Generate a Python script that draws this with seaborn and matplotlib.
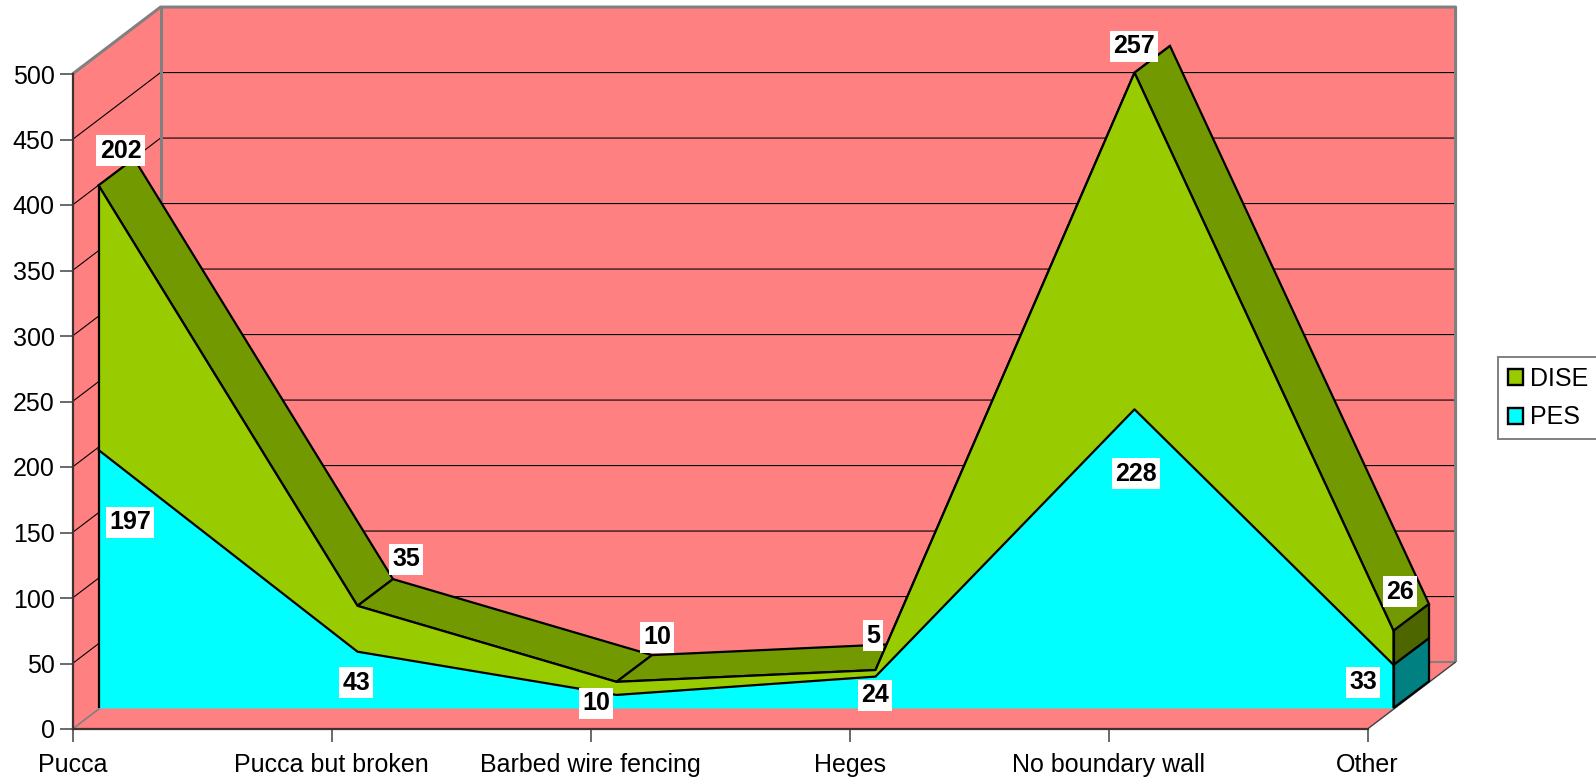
import matplotlib
matplotlib.use("Agg")
import matplotlib.pyplot as plt
from matplotlib.patches import Patch
import numpy as np
import pandas as pd
import seaborn as sns

# School boundary wall types, counted by survey
categories = ["Pucca", "Pucca but broken", "Barbed wire fencing", "Heges", "No boundary wall", "Other"]
pes_values = [197, 43, 10, 24, 228, 33]
dise_values = [202, 35, 10, 5, 257, 26]
y_ticks = [0, 50, 100, 150, 200, 250, 300, 350, 400, 450, 500]

# Oblique projection: shift per unit of depth, in category and value units
WALL_DX, WALL_DY = 0.34, 51.1
FRONT_DX, FRONT_DY = 0.1004, 16.0
BACK_DX, BACK_DY = 0.2375, 36.4

WALL = "#FF8080"
DISE = "#99CC00"
DISE_TOP = "#739900"
DISE_SIDE = "#4D6600"
PES = "#00FFFF"
PES_SIDE = "#008080"
EDGE = "#808080"

sns.set_theme(style="white")
plt.rcParams["font.family"] = ["Liberation Sans", "DejaVu Sans"]

W, H = 1596, 779
fig = plt.figure(figsize=(W / 100, H / 100), dpi=100, facecolor="white")
ax = fig.add_axes([72.5 / W, (H - 729) / H, 1295 / W, 655 / H])
ax.set_xlim(0, 5)
ax.set_ylim(0, 500)
ax.patch.set_alpha(0)

idx = np.arange(len(categories))
pes = np.array(pes_values, dtype=float)
total = pes + np.array(dise_values, dtype=float)


def poly(xs, ys, color, edge="none", lw=1.2, z=1):
    ax.fill(xs, ys, facecolor=color, edgecolor=edge, linewidth=lw, clip_on=False, zorder=z)


def rule(xs, ys, color="black", lw=0.8, z=1.5):
    ax.plot(xs, ys, color=color, linewidth=lw, clip_on=False, zorder=z, solid_capstyle="butt")


# Walls and floor
poly([0, WALL_DX, WALL_DX, 0], [0, WALL_DY, 500 + WALL_DY, 500], WALL)
poly([WALL_DX, 5 + WALL_DX, 5 + WALL_DX, WALL_DX], [WALL_DY, WALL_DY, 500 + WALL_DY, 500 + WALL_DY], WALL)
poly([0, 5, 5 + WALL_DX, WALL_DX], [0, 0, WALL_DY, WALL_DY], WALL)

# Gridlines running along the side wall and across the back wall
for v in y_ticks[1:-1]:
    rule([0, WALL_DX, 5 + WALL_DX], [v, v + WALL_DY, v + WALL_DY])

# Outline of the back box
rule([0, WALL_DX, 5 + WALL_DX, 5 + WALL_DX], [500, 500 + WALL_DY, 500 + WALL_DY, WALL_DY], EDGE, 2.2, 1.6)
rule([WALL_DX, WALL_DX], [WALL_DY, 500 + WALL_DY], EDGE, 2.2, 1.6)
rule([WALL_DX, 5 + WALL_DX], [WALL_DY, WALL_DY], EDGE, 1.5, 1.6)
rule([0, WALL_DX], [0, WALL_DY], EDGE, 1.2, 1.6)
rule([5, 5 + WALL_DX], [0, WALL_DY], "#404040", 1.0, 1.6)

# Top surface of the upper band, one facet per category interval
for i in idx[:-1]:
    poly([i + FRONT_DX, i + 1 + FRONT_DX, i + 1 + BACK_DX, i + BACK_DX],
         [total[i] + FRONT_DY, total[i + 1] + FRONT_DY, total[i + 1] + BACK_DY, total[i] + BACK_DY],
         DISE_TOP, "black", 1.6, 2)

# Front faces of the two stacked areas
fx = idx + FRONT_DX
ax.fill_between(fx, pes + FRONT_DY, total + FRONT_DY, color=DISE, linewidth=0, clip_on=False, zorder=3)
ax.fill_between(fx, FRONT_DY, pes + FRONT_DY, color=PES, linewidth=0, clip_on=False, zorder=3)

# End faces at the last category
last = idx[-1]
poly([last + FRONT_DX, last + BACK_DX, last + BACK_DX, last + FRONT_DX],
     [FRONT_DY, BACK_DY, pes[-1] + BACK_DY, pes[-1] + FRONT_DY], PES_SIDE, "black", 1.6, 3)
poly([last + FRONT_DX, last + BACK_DX, last + BACK_DX, last + FRONT_DX],
     [pes[-1] + FRONT_DY, pes[-1] + BACK_DY, total[-1] + BACK_DY, total[-1] + FRONT_DY], DISE_SIDE, "black", 1.6, 3)

# Outlines of the front faces
outline = pd.DataFrame({"x": fx, "pes": pes + FRONT_DY, "total": total + FRONT_DY})
for col in ("pes", "total"):
    sns.lineplot(data=outline, x="x", y=col, color="black", linewidth=1.6, estimator=None,
                 clip_on=False, zorder=4, ax=ax)
rule([fx[0], fx[0]], [FRONT_DY, total[0] + FRONT_DY], "black", 1.6, 4)
rule([fx[-1], fx[-1]], [FRONT_DY, total[-1] + FRONT_DY], "black", 1.6, 4)

# Value labels, offset in pixels from the front corner of each band
box = dict(boxstyle="square,pad=0.14", facecolor="white", edgecolor="none")
dise_offsets = [(22, 37), (48.5, 49), (40.5, 47), (-2.5, 37), (-0.5, 29), (6.5, 41.5)]
pes_offsets = [(31.5, -70), (-1.5, -28.5), (-20.5, -6), (-0.5, -16), (1.5, -62), (-30.5, -15)]
for values, tops, offsets in ((dise_values, total, dise_offsets), (pes_values, pes, pes_offsets)):
    for i, (val, top, off) in enumerate(zip(values, tops, offsets)):
        ax.annotate(str(val), (fx[i], top + FRONT_DY), xytext=(off[0] * 0.72, off[1] * 0.72),
                    textcoords="offset points", ha="center", va="center_baseline", fontsize=18,
                    fontweight="bold", color="black", bbox=box, zorder=5, annotation_clip=False)

# Axes, ticks and labels
ax.set_xticks(idx, categories)
ax.set_yticks(y_ticks)
ax.set_xlabel("")
ax.set_ylabel("")
ax.tick_params(axis="x", length=9.4, width=1.2, color="#505050", labelsize=18, labelcolor="black", pad=8, bottom=True)
ax.tick_params(axis="y", length=9.4, width=1.2, color="#505050", labelsize=18, labelcolor="black", pad=3.5, left=True)
for name, spine in ax.spines.items():
    spine.set_visible(name in ("left", "bottom"))
    spine.set_color("#403030")
    spine.set_linewidth(1.6)

handles = [Patch(facecolor=DISE, edgecolor="black", linewidth=1.7, label="DISE"),
           Patch(facecolor=PES, edgecolor="black", linewidth=1.7, label="PES")]
leg = ax.legend(handles=handles, loc="upper left", bbox_to_anchor=(1498 / W, (H - 357) / H),
                bbox_transform=fig.transFigure, fontsize=18, frameon=True, fancybox=False,
                edgecolor=EDGE, facecolor="white", framealpha=1, borderaxespad=0, borderpad=0.38,
                handlelength=0.62, handleheight=0.6, handletextpad=0.28, labelspacing=0.6,
                labelcolor="black")
leg.get_frame().set_linewidth(1.4)

fig.savefig("out.png", dpi=100, facecolor="white")
